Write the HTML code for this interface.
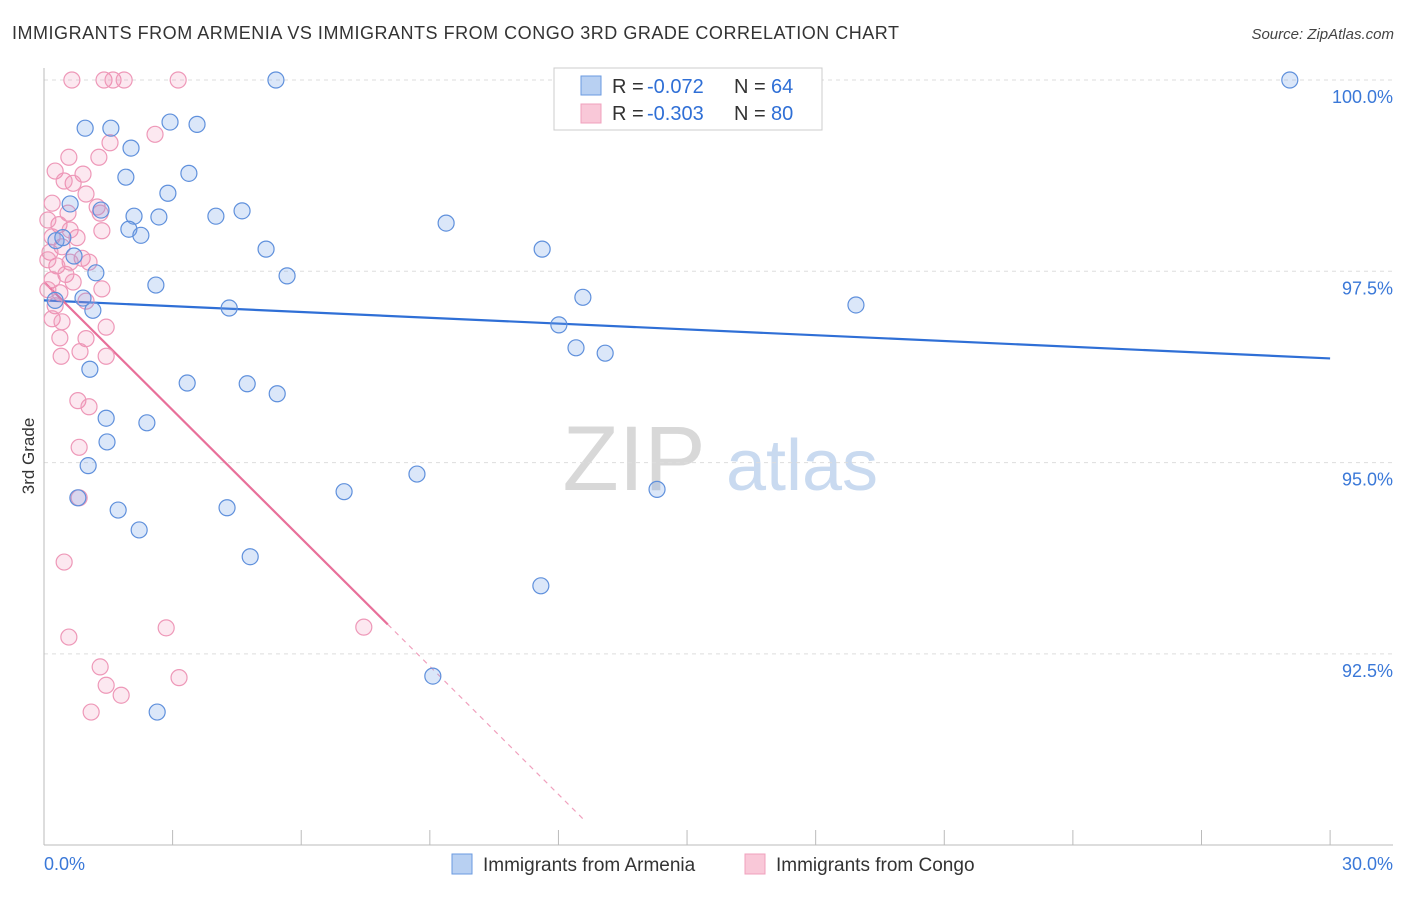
<!DOCTYPE html>
<html><head><meta charset="utf-8"><style>
body{margin:0;background:#fff;font-family:"Liberation Sans",sans-serif;}
svg text{font-family:"Liberation Sans",sans-serif;}
</style></head><body>
<svg id="chart" width="1406" height="892" viewBox="0 0 1406 892" xmlns="http://www.w3.org/2000/svg">
<text x="12" y="39" font-size="18" fill="#333" textLength="887" lengthAdjust="spacing">IMMIGRANTS FROM ARMENIA VS IMMIGRANTS FROM CONGO 3RD GRADE CORRELATION CHART</text>
<text x="1394" y="39" font-size="15" fill="#444" text-anchor="end" font-style="italic">Source: ZipAtlas.com</text>
<text transform="translate(34,456) rotate(-90)" font-size="17" fill="#333" text-anchor="middle">3rd Grade</text>
<g>
<text x="634" y="490" font-size="92" fill="#d8d8d8" text-anchor="middle" font-family="Liberation Serif,serif">ZIP</text>
<text x="802" y="490" font-size="72" fill="#c9daf0" text-anchor="middle">atlas</text>
</g>
<g id="grid"></g><g id="axes"></g><g id="trend"></g><g id="pts"></g>
<g>
<rect x="554" y="68" width="268" height="62" fill="#fff" stroke="#ccc"/>
<rect x="581" y="76" width="20" height="19" fill="#b8d0f2" stroke="#6a9ae0"/>
<rect x="581" y="104" width="20" height="19" fill="#f9c8d8" stroke="#f0a0bd"/>
<text x="612" y="93" font-size="20" fill="#333">R =</text>
<text x="647" y="93" font-size="20" fill="#2f6fd6">-0.072</text>
<text x="734" y="93" font-size="20" fill="#333">N =</text>
<text x="771" y="93" font-size="20" fill="#2f6fd6">64</text>
<text x="612" y="120" font-size="20" fill="#333">R =</text>
<text x="647" y="120" font-size="20" fill="#2f6fd6">-0.303</text>
<text x="734" y="120" font-size="20" fill="#333">N =</text>
<text x="771" y="120" font-size="20" fill="#2f6fd6">80</text>
</g>
<g>
<rect x="452" y="854" width="20" height="20" fill="#b8d0f2" stroke="#6a9ae0"/>
<text x="483" y="871" font-size="19" fill="#333">Immigrants from Armenia</text>
<rect x="745" y="854" width="20" height="20" fill="#f9c8d8" stroke="#f0a0bd"/>
<text x="776" y="871" font-size="19" fill="#333">Immigrants from Congo</text>
</g>
</svg>
<script>
const yTicks=[100,97.5,95,92.5];
const yTickLabels=["100.0%","97.5%","95.0%","92.5%"];
const xTickLabels=["0.0%","30.0%"];
const armeniaX=[5.41,29.06,0.96,1.56,2.94,3.57,2.03,1.91,3.38,2.89,0.61,1.33,2.10,2.68,4.01,4.62,9.38,1.98,2.26,0.28,0.44,5.18,11.62,0.70,1.21,5.67,2.61,12.57,0.91,18.94,4.32,1.14,0.26,12.01,12.41,13.09,1.07,3.34,4.74,5.44,1.45,2.40,1.47,1.03,8.70,7.00,14.30,0.79,1.73,4.27,2.22,4.81,11.59,9.07,2.64];
const armeniaY=[100,100,99.37,99.37,99.45,99.42,99.11,98.73,98.78,98.52,98.38,98.30,98.22,98.21,98.22,98.29,98.13,98.05,97.97,97.90,97.94,97.79,97.79,97.70,97.48,97.44,97.32,97.16,97.15,97.06,97.02,96.99,97.12,96.80,96.50,96.43,96.22,96.04,96.03,95.90,95.58,95.52,95.27,94.96,94.85,94.62,94.65,94.54,94.38,94.41,94.12,93.77,93.39,92.21,91.74];
const congoX=[0.65,1.40,1.61,1.87,3.13,1.54,2.59,0.58,1.28,0.26,0.91,0.68,0.47,0.98,0.19,1.24,0.56,1.31,0.35,1.35,0.61,0.19,0.77,0.42,0.14,0.89,0.61,0.30,1.05,0.51,0.19,0.68,1.35,0.37,0.26,0.98,0.19,0.42,1.45,0.37,0.98,0.84,0.40,1.45,0.79,1.05,0.82,0.82,0.47,0.58,2.85,7.46,1.31,1.45,1.80,3.15,1.10,0.09,0.09,0.09];
const congoY=[100,100,100,100,100,99.18,99.29,98.99,98.99,98.81,98.77,98.65,98.68,98.51,98.39,98.34,98.26,98.26,98.11,98.03,98.04,97.95,97.94,97.82,97.75,97.67,97.62,97.57,97.62,97.46,97.39,97.36,97.27,97.22,97.05,97.11,96.88,96.84,96.77,96.63,96.62,96.45,96.39,96.39,95.81,95.73,95.20,94.54,93.70,92.72,92.84,92.85,92.33,92.09,91.96,92.19,91.74,98.17,97.65,97.26];
const armeniaTrend=[97.12,-0.0253];
const congoTrend=[97.36,-0.558];
const ns="http://www.w3.org/2000/svg";
const X=v=>44+v*42.87, Y=v=>80+(100-v)*76.52;
function mk(t,a,p){const e=document.createElementNS(ns,t);for(const k in a)e.setAttribute(k,a[k]);p.appendChild(e);return e;}
const grid=document.getElementById('grid'),axes=document.getElementById('axes');
yTicks.forEach((v,i)=>{
 const l=mk('line',{x1:44,x2:1393,y1:Y(v),y2:Y(v),stroke:'#ddd','stroke-dasharray':'4,4'},grid);
 
 
 const t=mk('text',{x:1393,y:Y(v)+23,'font-size':18,fill:'#3a78d8','text-anchor':'end'},axes);
 t.textContent=yTickLabels[i];
 
 
});
const ax=mk('line',{x1:44,x2:1393,y1:845,y2:845,stroke:'#bbb'},axes);


const ay=mk('line',{x1:44,x2:44,y1:68,y2:845,stroke:'#bbb'},axes);


for(let v=3;v<=30;v+=3){const t=mk('line',{x1:X(v),x2:X(v),y1:830,y2:845,stroke:'#bbb'},axes);
 
 }
[[0,'start',44],[30,'end',1393]].forEach((d,i)=>{const t=mk('text',{x:d[2],y:870,'font-size':18,fill:'#3a78d8','text-anchor':d[1]},axes);t.textContent=xTickLabels[i];
 
 });
const pts=document.getElementById('pts');
congoX.forEach((x,i)=>{const c=mk('circle',{cx:X(x),cy:Y(congoY[i]),r:8,fill:'rgba(240,130,170,0.18)',stroke:'#ee98b8','stroke-width':1.2},pts);
 
 });
armeniaX.forEach((x,i)=>{const c=mk('circle',{cx:X(x),cy:Y(armeniaY[i]),r:8,fill:'rgba(110,160,230,0.25)',stroke:'#5f90dc','stroke-width':1.2},pts);
 
 });
const tr=document.getElementById('trend');
const b=mk('line',{x1:X(0),y1:Y(armeniaTrend[0]),x2:X(30),y2:Y(armeniaTrend[0]+30*armeniaTrend[1]),stroke:'#2f6fd6','stroke-width':2.2},tr);


const pe=8.02,pd=12.62;
const p=mk('line',{x1:X(0),y1:Y(congoTrend[0]),x2:X(pe),y2:Y(congoTrend[0]+pe*congoTrend[1]),stroke:'#e8709a','stroke-width':2.2},tr);


const pd2=mk('line',{x1:X(pe),y1:Y(congoTrend[0]+pe*congoTrend[1]),x2:X(pd),y2:Y(congoTrend[0]+pd*congoTrend[1]),stroke:'#f0a0bd','stroke-width':1.2,'stroke-dasharray':'5,5'},tr);


</script>
</body></html>
